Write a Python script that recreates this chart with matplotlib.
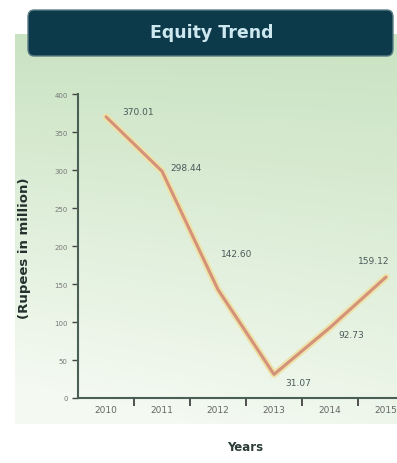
import matplotlib
matplotlib.use("Agg")
import matplotlib.pyplot as plt
from matplotlib.patches import FancyBboxPatch
import numpy as np

years = ["2010", "2011", "2012", "2013", "2014", "2015"]
equity = [370.01, 298.44, 142.60, 31.07, 92.73, 159.12]
labels = ["370.01", "298.44", "142.60", "31.07", "92.73", "159.12"]
y_ticks = [0, 50, 100, 150, 200, 250, 300, 350, 400]

W, H = 397, 464
fig = plt.figure(figsize=(W / 100, H / 100), dpi=100)
fig.patch.set_facecolor("white")

# green gradient panel behind the chart
bg = fig.add_axes([15 / W, 1 - 425 / H, 1 - 15 / W, (425 - 35) / H], zorder=0)
g = np.linspace(0, 1, 256)[:, None]
top = np.array([0.79, 0.89, 0.76])
bot = np.array([0.96, 0.98, 0.95])
xs = np.linspace(0, 1, 256)[None, :]
mix = np.clip(g * 0.85 + (1 - xs) * 0.25 * g, 0, 1)
img = top[None, None, :] * (1 - mix[..., None]) + bot[None, None, :] * mix[..., None]
bg.imshow(img, aspect="auto", extent=[0, 1, 0, 1], origin="upper")
bg.axis("off")

# title banner
banner = FancyBboxPatch((28 / W, 1 - 57 / H), 365 / W, 46 / H,
                        boxstyle="round,pad=0,rounding_size=0.015",
                        transform=fig.transFigure, facecolor="#0d3a4b",
                        edgecolor="#5a7d86", linewidth=1.0, zorder=2)
fig.patches.append(banner)
fig.text(212 / W, 1 - 33 / H, "Equity Trend", ha="center", va="center",
         fontsize=12.5, fontweight="bold", color="#cde8ef", zorder=3)

# main axes (extends past the right edge, like the cropped original)
ax = fig.add_axes([78 / W, 1 - 399 / H, 336 / W, 304 / H], zorder=1)
ax.patch.set_alpha(0)
x = np.arange(len(years))
ax.plot(x, equity, color="#eee3a8", linewidth=5, solid_capstyle="round", zorder=2)
ax.plot(x, equity, color="#d4927a", linewidth=2.2, solid_capstyle="round", zorder=3)

offsets = [(12, 4), (6, 3), (2, 26), (8, -6), (6, -5), (-20, 12)]
for xi, yi, lab, (dx, dy) in zip(x, equity, labels, offsets):
    ax.annotate(lab, (xi, yi), xytext=(dx, dy), textcoords="offset points",
                fontsize=6.5, color="#4a5a5a", ha="left", va="center", zorder=4)

ax.set_xlim(-0.5, len(years) - 0.5)
ax.set_ylim(0, 400)
ax.set_xticks(x)
ax.set_xticklabels(years, fontsize=6.5, color="#666666")
ax.set_xticks(np.arange(0.5, len(years) - 0.5, 1), minor=True)
ax.tick_params(axis="x", which="major", length=0, pad=5)
ax.tick_params(axis="x", which="minor", length=6, width=1.2, color="#333333", direction="out")
ax.set_yticks(y_ticks)
ax.set_yticklabels([str(v) for v in y_ticks], fontsize=5, color="#777777")
ax.tick_params(axis="y", length=4, width=1, color="#444444", direction="out")
for s in ["top", "right"]:
    ax.spines[s].set_visible(False)
ax.spines["left"].set_color("#4a5f55")
ax.spines["left"].set_linewidth(1.5)
ax.spines["bottom"].set_color("#4a5f55")
ax.spines["bottom"].set_linewidth(1.5)

fig.text(25 / W, 1 - 248 / H, "(Rupees in million)", rotation=90, ha="center",
         va="center", fontsize=9.5, fontweight="bold", color="#22302e")
fig.text(245 / W, 1 - 448 / H, "Years", ha="center", va="center",
         fontsize=8.5, fontweight="bold", color="#2b3b38")

fig.savefig("out.png", dpi=100)
